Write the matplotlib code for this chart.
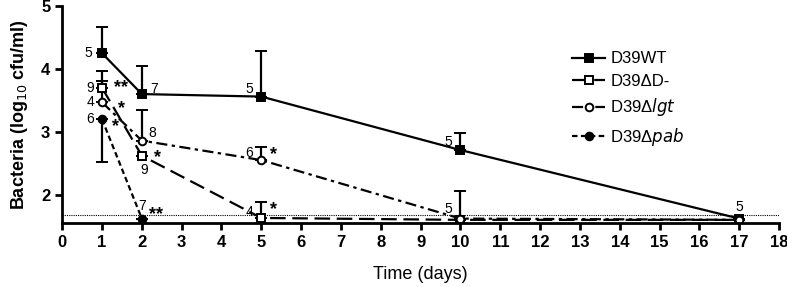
import matplotlib.pyplot as plt
from matplotlib.lines import Line2D

plt.rcParams['font.family'] = ['Liberation Sans', 'DejaVu Sans']

# Sample data (log10 cfu/ml)
wt_days = [1, 2, 5, 10, 17]
wt_vals = [4.25, 3.60, 3.56, 2.71, 1.62]
wt_err = [0.42, 0.45, 0.73, 0.27, 0.0]

dm_days = [1, 2, 5, 10, 17]
dm_vals = [3.70, 2.62, 1.63, 1.60, 1.60]
dm_err = [0.10, 0.0, 0.26, 0.0, 0.0]

lgt_days = [1, 2, 5, 10, 17]
lgt_vals = [3.47, 2.86, 2.55, 1.62, 1.60]
lgt_err = [0.50, 0.49, 0.21, 0.44, 0.0]

pab_days = [1, 2]
pab_vals = [3.20, 1.62]
pab_err_lo = [0.68, 0.0]

detection_limit = 1.68

# n labels / significance marks: (day, value, text, dx, dy)
notes = [
    (1, 4.25, '5', -0.35, 0.0), (2, 3.60, '7', 0.3, 0.08), (5, 3.56, '5', -0.3, 0.12),
    (10, 2.71, '5', -0.3, 0.12), (17, 1.62, '5', 0.0, 0.18),
    (1, 3.70, '9', -0.3, 0.0), (1, 3.70, '**', 0.48, 0.0), (2, 2.62, '9', 0.05, -0.22),
    (2, 2.62, '*', 0.4, -0.03), (5, 1.63, '4', -0.3, 0.10), (5, 1.63, '*', 0.3, 0.13),
    (1, 3.47, '4', -0.3, 0.0), (1, 3.47, '*', 0.5, -0.1), (2, 2.86, '8', 0.25, 0.12),
    (5, 2.55, '6', -0.3, 0.12), (5, 2.55, '*', 0.3, 0.09), (10, 1.62, '5', -0.3, 0.16),
    (1, 3.20, '6', -0.3, 0.0), (1, 3.20, '*', 0.35, -0.12), (2, 1.62, '7', 0.0, 0.2),
    (2, 1.62, '**', 0.35, 0.07),
]

fig = plt.figure(figsize=(7.87, 2.87), dpi=100)
ax = fig.add_axes([0.079, 0.223, 0.911, 0.756])

ax.axhline(detection_limit, color='black', lw=0.8, ls=(0, (1, 1)), zorder=1)

kw = dict(color='black', lw=1.6, capsize=4, capthick=1.6, elinewidth=1.6, markersize=5.5)
styles = [
    ('D39WT', 's', '-', 'black'),
    ('D39ΔD-', 's', (0, (7, 3)), 'white'),
    ('D39Δ$\\it{lgt}$', 'o', (0, (5, 2, 1.5, 2)), 'white'),
    ('D39Δ$\\it{pab}$', 'o', (0, (2.5, 1.5)), 'black'),
]
ax.errorbar(wt_days, wt_vals, yerr=[[0] * 5, wt_err], fmt=styles[0][1], ls=styles[0][2],
            mfc=styles[0][3], mew=1.4, **kw)
ax.errorbar(dm_days, dm_vals, yerr=[[0] * 5, dm_err], fmt=styles[1][1], ls=styles[1][2],
            mfc=styles[1][3], mew=1.4, **kw)
ax.errorbar(lgt_days, lgt_vals, yerr=[[0] * 5, lgt_err], fmt=styles[2][1], ls=styles[2][2],
            mfc=styles[2][3], mew=1.4, **kw)
ax.errorbar(pab_days, pab_vals, yerr=[pab_err_lo, [0, 0]], fmt=styles[3][1], ls=styles[3][2],
            mfc=styles[3][3], mew=1.4, **kw)

for d, v, t, dx, dy in notes:
    if '*' in t:
        ax.text(d + dx, v + dy, t, fontsize=13, fontweight='bold', ha='center', va='center')
    else:
        ax.text(d + dx, v + dy, t, fontsize=10, ha='center', va='center')

ax.set_xlim(0, 18)
ax.set_ylim(1.55, 5)
ax.set_xticks(range(0, 19))
ax.set_yticks([2, 3, 4, 5])
for s in ['top', 'right']:
    ax.spines[s].set_visible(False)
for s in ['left', 'bottom']:
    ax.spines[s].set_linewidth(2)
ax.tick_params(width=2, length=5)
for lab in ax.get_xticklabels() + ax.get_yticklabels():
    lab.set_fontweight('bold')
    lab.set_fontsize(12)

ax.set_xlabel('Time (days)', fontsize=13, labelpad=12)
ax.set_ylabel('Bacteria (log$_{10}$ cfu/ml)', fontsize=13, fontweight='bold', labelpad=8)

handles = [Line2D([], [], color='black', lw=1.6, ls=ls, marker=m, mfc=fc, mew=1.4,
                  markersize=5.5) for _, m, ls, fc in styles]
ax.legend(handles, [s[0] for s in styles], loc='upper left', bbox_to_anchor=(0.69, 0.86),
          frameon=False, fontsize=12, handlelength=2.0, handletextpad=0.3, labelspacing=0.45)

plt.savefig('out.png', dpi=100)
